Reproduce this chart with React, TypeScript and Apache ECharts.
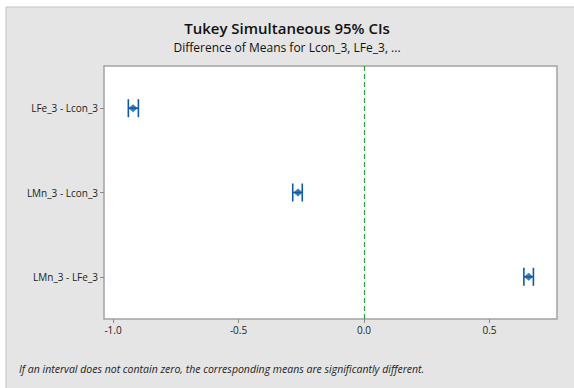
import React, { useEffect, useRef } from "react";
import * as echarts from "echarts";

// Pairwise comparisons (top to bottom)
const comparisons = ["LFe_3 - Lcon_3", "LMn_3 - Lcon_3", "LMn_3 - LFe_3"];
// Difference of means and Tukey 95% simultaneous interval bounds
const diffMeans = [-0.92, -0.263, 0.656];
const lowerBounds = [-0.939, -0.284, 0.637];
const upperBounds = [-0.899, -0.246, 0.675];
const xTickValues = [-1.0, -0.5, 0.0, 0.5];

const FONT = "'Open Sans', 'Noto Sans', sans-serif";
const BLUE = "#0d5aa7";

export default function App() {
  const ref = useRef<HTMLDivElement>(null);

  useEffect(() => {
    if (!ref.current) return;
    const chart = echarts.init(ref.current, null, { renderer: "svg" });

    const intervalData = comparisons.map((_, i) => [i, lowerBounds[i], upperBounds[i]]);
    const meanData = comparisons.map((c, i) => [diffMeans[i], c]);

    chart.setOption({
      animation: false,
      backgroundColor: "#ffffff",
      textStyle: { fontFamily: FONT },
      graphic: [
        {
          type: "rect",
          z: -10,
          silent: true,
          shape: { x: 6, y: 7, width: 600, height: 400 },
          style: { fill: "#e5e5e5", stroke: "#c4c4c4", lineWidth: 1 },
        },
        {
          type: "text",
          left: "center",
          top: 20,
          style: {
            text: "Tukey Simultaneous 95% CIs",
            fontFamily: FONT,
            fontSize: 15,
            fontWeight: 600,
            fill: "#111",
          },
        },
        {
          type: "text",
          left: "center",
          top: 41,
          style: {
            text: "Difference of Means for Lcon_3, LFe_3, ...",
            fontFamily: FONT,
            fontSize: 12,
            fill: "#111",
          },
        },
        {
          type: "text",
          left: 19,
          top: 363,
          style: {
            text: "If an interval does not contain zero, the corresponding means are significantly different.",
            fontFamily: FONT,
            fontSize: 10.5,
            fontStyle: "italic",
            fill: "#222",
          },
        },
      ],
      grid: {
        left: 104,
        right: 17,
        top: 66,
        bottom: 69,
        show: true,
        backgroundColor: "#ffffff",
        borderColor: "#a3a3a3",
        borderWidth: 1.5,
      },
      xAxis: {
        type: "value",
        min: -1.036,
        max: 0.769,
        splitLine: { show: false },
        axisLine: { show: false, onZero: false },
        axisTick: {
          show: true,
          length: 4,
          lineStyle: { color: "#8a8a8a" },
          customValues: xTickValues,
        },
        axisLabel: {
          color: "#222",
          fontSize: 10,
          fontFamily: FONT,
          margin: 6,
          customValues: xTickValues,
          formatter: (v: number) => v.toFixed(1),
        },
      },
      yAxis: {
        type: "category",
        data: comparisons,
        inverse: true,
        axisLine: { show: false, onZero: false },
        axisTick: {
          show: true,
          alignWithLabel: true,
          length: 4,
          lineStyle: { color: "#8a8a8a" },
        },
        axisLabel: { color: "#222", fontSize: 10, fontFamily: FONT, margin: 6 },
        splitLine: { show: false },
      },
      series: [
        {
          type: "custom",
          data: intervalData,
          encode: { y: 0, x: [1, 2] },
          renderItem: (params: any, api: any) => {
            const idx = api.value(0);
            const lo = api.coord([api.value(1), idx]);
            const hi = api.coord([api.value(2), idx]);
            const half = 9;
            const style = { stroke: BLUE, lineWidth: 1.6, fill: "none" };
            return {
              type: "group",
              children: [
                { type: "line", shape: { x1: lo[0], y1: lo[1], x2: hi[0], y2: hi[1] }, style },
                { type: "line", shape: { x1: lo[0], y1: lo[1] - half, x2: lo[0], y2: lo[1] + half }, style },
                { type: "line", shape: { x1: hi[0], y1: hi[1] - half, x2: hi[0], y2: hi[1] + half }, style },
              ],
            };
          },
          z: 3,
        },
        {
          type: "scatter",
          data: meanData,
          symbol: "diamond",
          symbolSize: [9, 8],
          itemStyle: { color: BLUE },
          z: 4,
          markLine: {
            silent: true,
            symbol: "none",
            label: { show: false },
            lineStyle: { color: "#2f9e41", type: [5, 3], width: 1.2 },
            data: [{ xAxis: 0 }],
          },
        },
      ],
    });

    return () => chart.dispose();
  }, []);

  return (
    <div
      ref={ref}
      style={{ position: "fixed", left: 0, top: 0, width: 574, height: 388 }}
    />
  );
}
